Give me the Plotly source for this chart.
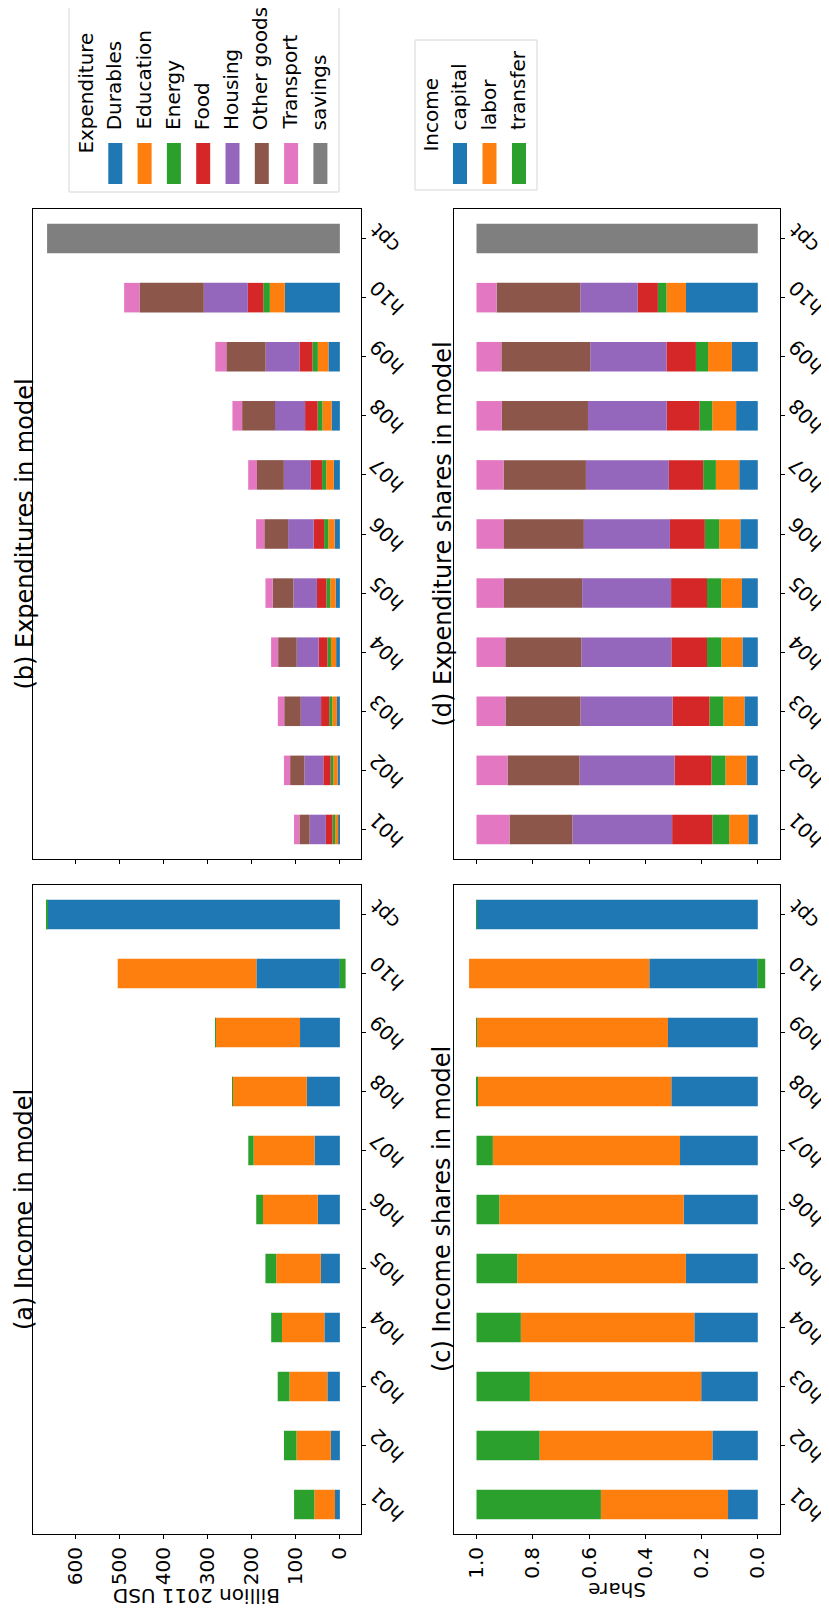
import plotly.graph_objects as go

categories = ['h01', 'h02', 'h03', 'h04', 'h05', 'h06', 'h07', 'h08', 'h09', 'h10', 'cpt']

# income by source (billion 2011 USD)
income_names = ['capital', 'labor', 'transfer']
capital = [11, 20.5, 28.4, 35.2, 43.2, 50, 57.5, 75, 90.5, 189.6, 665]
labor = [47, 78, 86, 96.2, 101.4, 124.6, 138.4, 168.5, 192.5, 315, 0]
transfer = [46, 28.5, 26.8, 24.6, 24.5, 15.4, 12.1, 0.5, 0.5, -13, 0.5]

# expenditure by good (billion 2011 USD)
exp_names = ['Durables', 'Education', 'Energy', 'Food', 'Housing', 'Other goods', 'Transport', 'savings']
durables = [3.5, 5.1, 6.7, 8.5, 9.5, 11.8, 13.7, 18.8, 26, 125, 0]
education = [7.1, 9.5, 10.5, 11.7, 12.4, 14.3, 17.3, 20.7, 24, 34, 0]
energy = [6.2, 6.3, 7, 8, 8.6, 9.7, 9.4, 11, 12.2, 15, 0]
food = [14.9, 16.7, 18.5, 19.8, 21.6, 23.6, 25.4, 28.5, 29.7, 35, 0]
housing = [36.9, 42.9, 46.1, 50, 53.4, 58.2, 61.4, 68.3, 76.6, 100, 0]
other_goods = [23.3, 32.5, 37.6, 42.2, 47, 54, 61, 74.7, 89.4, 146, 0]
transport = [12.2, 14, 14.5, 16, 16.5, 18.6, 20, 22, 25, 35, 0]
savings = [0, 0, 0, 0, 0, 0, 0, 0, 0, 0, 665]

colors = ['#1f77b4', '#ff7f0e', '#2ca02c', '#d62728', '#9467bd', '#8c564b', '#e377c2', '#7f7f7f']

income = [capital, labor, transfer]
expend = [durables, education, energy, food, housing, other_goods, transport, savings]

inc_tot = [sum(v) for v in zip(*income)]
exp_tot = [sum(v) for v in zip(*expend)]
income_sh = [[v / t for v, t in zip(s, inc_tot)] for s in income]
expend_sh = [[v / t for v, t in zip(s, exp_tot)] for s in expend]

W, H = 829, 1610
FONT = 'DejaVu Sans'
OFF = 8  # page body margin: the figure starts 8px in from the window corner


# page pixel -> paper fraction
def px(x):
    return (x - OFF) / W


def py(y):
    return 1 - (y - OFF) / H


left_dom = [px(33), px(361)]
right_dom = [px(454), px(780)]
row1 = [py(859), py(209)]
row2 = [py(1534), py(885)]

fig = go.Figure()

# (b) expenditures, (d) expenditure shares, (a) income, (c) income shares
panels = [
    ('x', 'y', expend, exp_names),
    ('x2', 'y2', expend_sh, exp_names),
    ('x3', 'y3', income, income_names),
    ('x4', 'y4', income_sh, income_names),
]
for xa, ya, series, names in panels:
    for i, (vals, name) in enumerate(zip(series, names)):
        fig.add_trace(go.Bar(
            y=categories, x=vals, name=name, orientation='h',
            marker=dict(color=colors[i], line=dict(width=0)),
            width=0.5, xaxis=xa, yaxis=ya, showlegend=False,
        ))


def val_axis(domain, anchor, rng, dtick, fmt, labels):
    return dict(domain=domain, anchor=anchor, range=rng, dtick=dtick, tick0=0,
                tickformat=fmt, showticklabels=labels, tickangle=-90,
                showline=True, mirror=True, linecolor='black', linewidth=1,
                ticks='outside', ticklen=4, tickcolor='black', tickwidth=1,
                showgrid=False, zeroline=False,
                tickfont=dict(family=FONT, size=20, color='black'))


def cat_axis(domain, anchor):
    return dict(domain=domain, anchor=anchor, side='right', type='category',
                categoryorder='array', categoryarray=categories, range=[-0.5, 10.5],
                showline=True, mirror=True, linecolor='black', linewidth=1,
                ticks='outside', ticklen=4, tickcolor='black', tickwidth=1,
                showticklabels=False, showgrid=False, zeroline=False)


usd_range = [697, -48]
share_range = [1.080, -0.079]

fig.update_layout(
    width=W, height=H, margin=dict(l=0, r=0, t=0, b=0),
    paper_bgcolor='white', plot_bgcolor='white', barmode='relative',
    font=dict(family=FONT, color='black'),
    xaxis=val_axis(left_dom, 'y', usd_range, 100, 'd', False),
    yaxis=cat_axis(row1, 'x'),
    xaxis2=val_axis(right_dom, 'y2', share_range, 0.2, '.1f', False),
    yaxis2=cat_axis(row1, 'x2'),
    xaxis3=val_axis(left_dom, 'y3', usd_range, 100, 'd', True),
    yaxis3=cat_axis(row2, 'x3'),
    xaxis4=val_axis(right_dom, 'y4', share_range, 0.2, '.1f', True),
    yaxis4=cat_axis(row2, 'x4'),
)

ann = []
# category tick labels, slanted
for xa, ya, _, _ in panels:
    for c in categories:
        ann.append(dict(text=c, xref=xa + ' domain', x=1, xanchor='left', xshift=2,
                        yref=ya, y=c, yanchor='middle', textangle=-135, showarrow=False,
                        borderpad=0, font=dict(size=20)))

# panel titles
titles = [
    ('(b) Expenditures in model', 24.6, row1),
    ('(d) Expenditure shares in model', 442.6, row1),
    ('(a) Income in model', 24.6, row2),
    ('(c) Income shares in model', 442.6, row2),
]
for t, x, dom in titles:
    ann.append(dict(text=t, xref='paper', yref='paper', x=px(x), y=sum(dom) / 2,
                    xanchor='center', yanchor='middle', textangle=-90, showarrow=False,
                    borderpad=0, font=dict(size=24)))

# axis titles
ann.append(dict(text='Billion 2011 USD', xref='paper', yref='paper', x=sum(left_dom) / 2,
                y=py(1596), xanchor='center', yanchor='middle', textangle=180,
                showarrow=False, borderpad=0, font=dict(size=20)))
ann.append(dict(text='Share', xref='paper', yref='paper', x=sum(right_dom) / 2,
                y=py(1590), xanchor='center', yanchor='middle', textangle=180,
                showarrow=False, borderpad=0, font=dict(size=20)))

# legends drawn by hand so text can be rotated
shapes = []
legends = [
    ('Expenditure', exp_names, (69, 2, 339, 192), 85.6, 93, 108.3, 29.3),
    ('Income', income_names, (415, 40, 537, 190), 430.6, 115, 453, 29.5),
]
for title, names, box, tx, ty, x0, step in legends:
    shapes.append(dict(type='rect', xref='paper', yref='paper',
                       x0=px(box[0]), x1=px(box[2]), y0=py(box[3]), y1=py(box[1]),
                       line=dict(color='#d6d6d6', width=1), fillcolor='white', layer='below'))
    ann.append(dict(text=title, xref='paper', yref='paper', x=px(tx), y=py(ty),
                    xanchor='center', yanchor='middle', textangle=-90, showarrow=False,
                    borderpad=0, font=dict(size=20)))
    for i, n in enumerate(names):
        lx = x0 + i * step
        shapes.append(dict(type='rect', xref='paper', yref='paper',
                           x0=px(lx), x1=px(lx + 14), y0=py(184), y1=py(143),
                           line=dict(width=0), fillcolor=colors[i]))
        ann.append(dict(text=n, xref='paper', yref='paper', x=px(lx + 6), y=py(131),
                        xanchor='center', yanchor='bottom', textangle=-90, showarrow=False,
                        borderpad=0, font=dict(size=20)))

fig.update_layout(annotations=ann, shapes=shapes)

fig.write_html('out.html')
